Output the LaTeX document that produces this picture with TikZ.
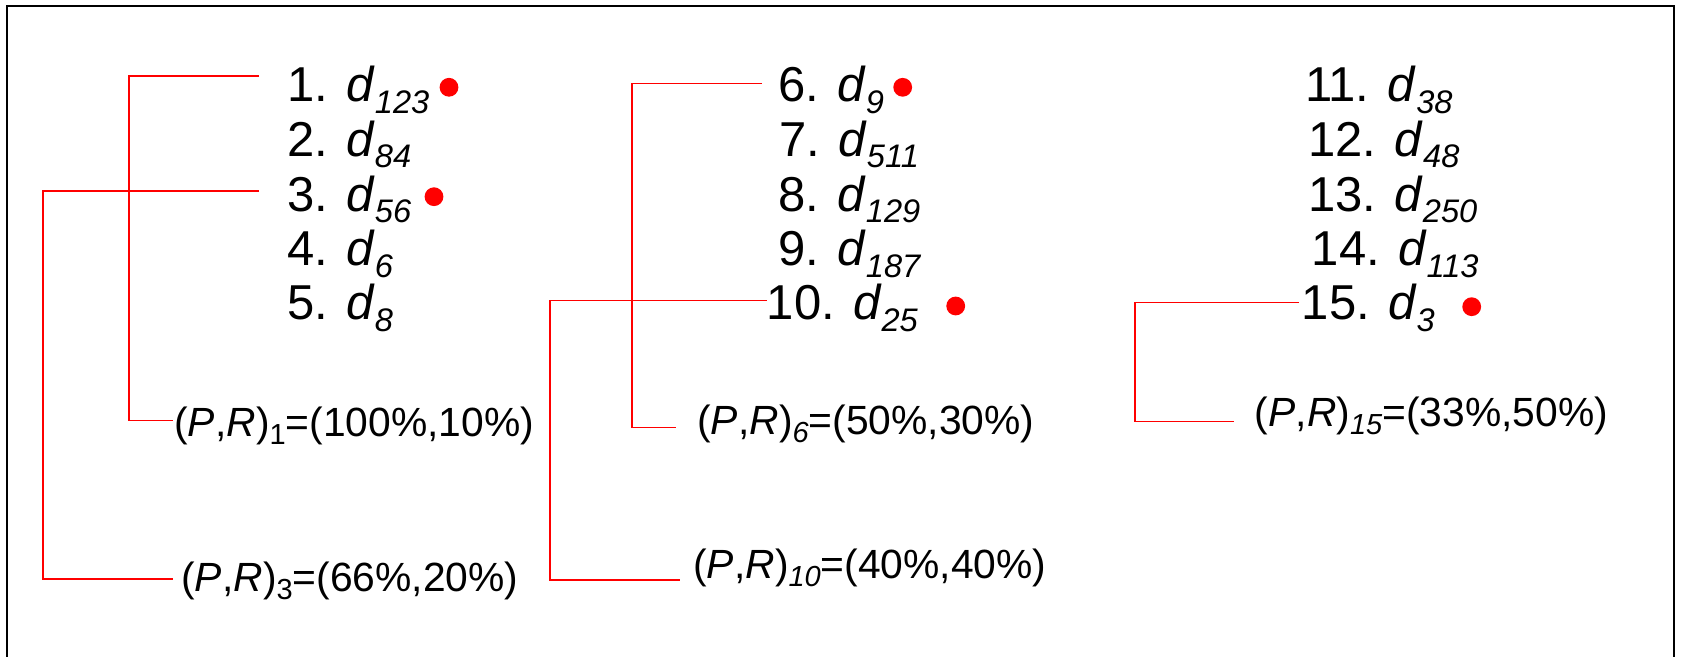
\documentclass[tikz,border=0pt]{standalone}
\usepackage{fontspec}
\setmainfont{Liberation Sans}
% document d with an italic subscript index
\newcommand\dsub[1]{\textit{d}\raisebox{-5.8pt}{\fontsize{16.3pt}{16.3pt}\selectfont\itshape #1}}
% (P,R) pair with a subscript and its value
\newcommand\prpair[2]{(\textit{P},\textit{R})\raisebox{-4pt}{\fontsize{14.5pt}{14.5pt}\selectfont #1}=#2}
\begin{document}
\begin{tikzpicture}[x=0.5pt,y=-0.5pt,
  item/.style={anchor=base west, inner sep=0pt, font=\fontsize{24.5pt}{24.5pt}\selectfont},
  prlabel/.style={anchor=base west, inner sep=0pt, font=\fontsize{20.4pt}{20.4pt}\selectfont},
  conn/.style={draw=red, line width=0.75pt},
  hit/.style={circle, fill=red, inner sep=0pt, minimum size=9.4pt},
  frame/.style={draw=black, line width=1pt}]
\useasboundingbox (0,0) rectangle (1681,657);

% outer frame (open at the bottom)
\draw[frame] (7,660) -- (7,6) -- (1674,6) -- (1674,660);

% ranked list, first column
\node[item] (i1) at (287,101.7) {1. \dsub{123}};
\node[item] (i2) at (287,156.2) {2. \dsub{84}};
\node[item] (i3) at (287,211.2) {3. \dsub{56}};
\node[item] (i4) at (287,265.8) {4. \dsub{6}};
\node[item] (i5) at (287,320.0) {5. \dsub{8}};
% second column
\node[item] (i6) at (778,101.7) {6. \dsub{9}};
\node[item] (i7) at (779,156.2) {7. \dsub{511}};
\node[item] (i8) at (778,211.2) {8. \dsub{129}};
\node[item] (i9) at (778,265.8) {9. \dsub{187}};
\node[item] (i10) at (766.4,320.0) {10. \dsub{25}};
% third column
\node[item] (i11) at (1304.7,101.7) {11. \dsub{38}};
\node[item] (i12) at (1308,156.2) {12. \dsub{48}};
\node[item] (i13) at (1307.7,211.2) {13. \dsub{250}};
\node[item] (i14) at (1311.4,265.8) {14. \dsub{113}};
\node[item] (i15) at (1301.4,320.0) {15. \dsub{3}};

% relevant documents
\node[hit] (h1) at (449,87.3) {};
\node[hit] (h3) at (434,196.7) {};
\node[hit] (h6) at (902.7,87.3) {};
\node[hit] (h10) at (955.7,306) {};
\node[hit] (h15) at (1471.7,306.7) {};

% precision / recall at each relevant rank
\node[prlabel] (p1) at (174,436.7) {\prpair{1}{(100\%,10\%)}};
\node[prlabel] (p3) at (181,591) {\prpair{3}{(66\%,20\%)}};
\node[prlabel] (p6) at (697,435) {\prpair{\itshape 6}{(50\%,30\%)}};
\node[prlabel] (p10) at (693,578.5) {\prpair{\itshape 10}{(40\%,40\%)}};
\node[prlabel] (p15) at (1254.5,426.7) {\prpair{\itshape 15}{(33\%,50\%)}};

% connector end points
\coordinate (a1) at (259,76);      \coordinate (b1) at (173,420.7);   \coordinate (v1) at (129,0);
\coordinate (a3) at (259,191);     \coordinate (b3) at (173,579);     \coordinate (v3) at (43,0);
\coordinate (a6) at (762,83.3);    \coordinate (b6) at (676,427.7);   \coordinate (v6) at (632,0);
\coordinate (a10) at (766.8,300.7);\coordinate (b10) at (680,580);    \coordinate (v10) at (550,0);
\coordinate (a15) at (1299,302.3); \coordinate (b15) at (1234,421.7); \coordinate (v15) at (1135,0);

% elbow connectors from ranks to their (P,R) values
\foreach \k in {1,3,6,10,15}{
  \draw[conn] (a\k) -- (a\k -| v\k) -- (b\k -| v\k) -- (b\k);
}
\end{tikzpicture}
\end{document}
